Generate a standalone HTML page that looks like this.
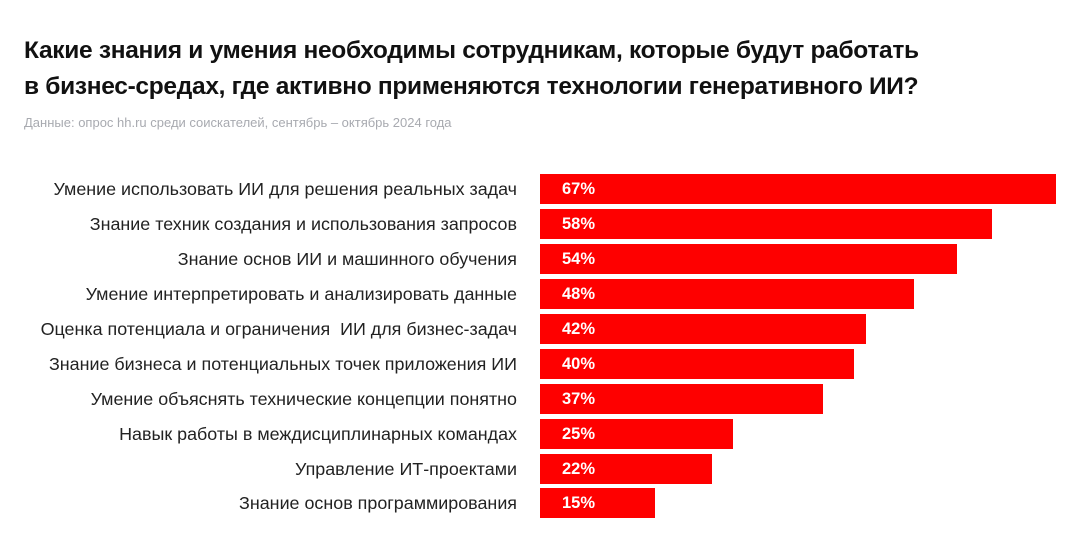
<!DOCTYPE html>
<html><head><meta charset="utf-8"><style>
body{margin:0;width:1080px;height:549px;background:#fff;font-family:"Liberation Sans","Noto Sans CJK SC",sans-serif;position:relative;overflow:hidden}
h1{position:absolute;left:24px;top:33px;margin:0;font-size:24.5px;line-height:36px;font-weight:bold;color:#111;letter-spacing:-0.3px;white-space:nowrap}
.sub{position:absolute;left:24px;top:115px;font-size:13px;color:#a8aab0}
.l{position:absolute;right:563px;font-size:17.9px;color:#222;white-space:nowrap;line-height:30px}
.b{position:absolute;left:540px;height:30px;background:#fe0000;color:#fff;font-weight:bold;font-size:16.5px;line-height:31px;padding-left:22px;box-sizing:border-box}
</style></head><body>
<h1>Какие знания и умения необходимы сотрудникам, которые будут работать<br>в бизнес-средах, где активно применяются технологии генеративного ИИ?</h1>
<div class="sub">Данные: опрос hh.ru среди соискателей, сентябрь – октябрь 2024 года</div>
<div class="l" style="top:174px">Умение использовать ИИ для решения реальных задач</div><div class="b" style="top:174px;width:516px">67%</div>
<div class="l" style="top:209px">Знание техник создания и использования запросов</div><div class="b" style="top:209px;width:452px">58%</div>
<div class="l" style="top:244px">Знание основ ИИ и машинного обучения</div><div class="b" style="top:244px;width:417px">54%</div>
<div class="l" style="top:279px">Умение интерпретировать и анализировать данные</div><div class="b" style="top:279px;width:374px">48%</div>
<div class="l" style="top:314px">Оценка потенциала и ограничения&nbsp; ИИ для бизнес-задач</div><div class="b" style="top:314px;width:326px">42%</div>
<div class="l" style="top:349px">Знание бизнеса и потенциальных точек приложения ИИ</div><div class="b" style="top:349px;width:314px">40%</div>
<div class="l" style="top:384px">Умение объяснять технические концепции понятно</div><div class="b" style="top:384px;width:283px">37%</div>
<div class="l" style="top:419px">Навык работы в междисциплинарных командах</div><div class="b" style="top:419px;width:193px">25%</div>
<div class="l" style="top:454px">Управление ИТ-проектами</div><div class="b" style="top:454px;width:172px">22%</div>
<div class="l" style="top:488px">Знание основ программирования</div><div class="b" style="top:488px;width:115px">15%</div>
</body></html>
